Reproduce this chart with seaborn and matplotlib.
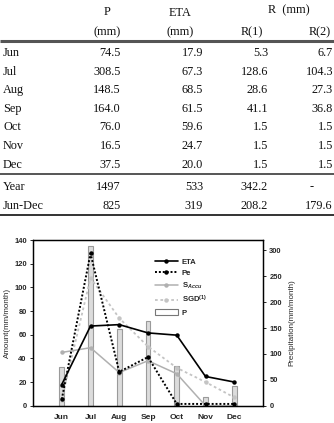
import numpy as np
import matplotlib
matplotlib.use('Agg')
import matplotlib.pyplot as plt
from matplotlib.lines import Line2D
from matplotlib.patches import Patch
import seaborn as sns

# ---- data ----
months = ['Jun', 'Jul', 'Aug', 'Sep', 'Oct', 'Nov', 'Dec']
p_mm = [74.5, 308.5, 148.5, 164.0, 76.0, 16.5, 37.5]
eta_mm = [17.9, 67.3, 68.5, 61.5, 59.6, 24.7, 20.0]
r1_mm = [5.3, 128.6, 28.6, 41.1, 1.5, 1.5, 1.5]
r2_mm = [6.7, 104.3, 27.3, 36.8, 1.5, 1.5, 1.5]
s_accu = [45, 49, 28, 38, 27, 0, 0]
sgd = [5, 108, 74, 50, 32, 20, 7]

total_labels = ['Year', 'Jun-Dec']
p_tot = ['1497', '825']
eta_tot = ['533', '319']
r1_tot = ['342.2', '208.2']
r2_tot = ['-', '179.6']

sns.set_style('ticks')
plt.rcParams['font.family'] = ['Liberation Sans', 'DejaVu Sans']
plt.rcParams['mathtext.fontset'] = 'custom'
plt.rcParams['mathtext.rm'] = 'Liberation Sans:bold'
plt.rcParams['mathtext.it'] = 'Liberation Sans:italic:bold'
plt.rcParams['mathtext.bf'] = 'Liberation Sans:bold'

W, H = 334, 423
fig = plt.figure(figsize=(W / 100, H / 100), dpi=100)
fig.patch.set_facecolor('white')

# ---- table ----
tab_h = 222
axt = fig.add_axes([0, 1 - tab_h / H, 1, tab_h / H])
axt.set_xlim(0, W)
axt.set_ylim(tab_h, 0)
axt.axis('off')

serif = dict(family=['Liberation Serif', 'DejaVu Serif'], fontsize=8.8, color='#111111')
col_right = [121, 203, 268, 333]
col_center = [107, 180, 252, 320]

axt.text(col_center[0], 12, 'P', ha='center', va='center', **serif)
axt.text(col_center[1], 13, 'ETA', ha='center', va='center', **serif)
axt.text(289, 10, 'R  (mm)', ha='center', va='center', **serif)
axt.text(col_center[0], 32, '(mm)', ha='center', va='center', **serif)
axt.text(col_center[1], 32, '(mm)', ha='center', va='center', **serif)
axt.text(col_center[2], 32, 'R(1)', ha='center', va='center', **serif)
axt.text(col_center[3], 32, 'R(2)', ha='center', va='center', **serif)
axt.plot([0, W], [41.5, 41.5], color='#555555', lw=2.2, solid_capstyle='butt')

row_y = 53
for i, m in enumerate(months):
    y = row_y + i * 18.6
    axt.text(3, y, m, ha='left', va='center', **serif)
    for c, v in enumerate([p_mm[i], eta_mm[i], r1_mm[i], r2_mm[i]]):
        axt.text(col_right[c], y, f'{v:.1f}', ha='right', va='center', **serif)

axt.plot([0, W], [174, 174], color='#555555', lw=1.4, solid_capstyle='butt')
for i, lab in enumerate(total_labels):
    y = 187 + i * 18.5
    axt.text(3, y, lab, ha='left', va='center', **serif)
    for c, s in enumerate([p_tot[i], eta_tot[i], r1_tot[i]]):
        axt.text(col_right[c], y, s, ha='right', va='center', **serif)
    if r2_tot[i] == '-':
        axt.text(312, y, '-', ha='center', va='center', **serif)
    else:
        axt.text(col_right[3], y, r2_tot[i], ha='right', va='center', **serif)
axt.plot([0, W], [215, 215], color='#333333', lw=1.4, solid_capstyle='butt')

# ---- chart ----
ax_l, ax_r, ax_b, ax_t = 33, 263, 405.7, 240
ax1 = fig.add_axes([ax_l / W, 1 - ax_b / H, (ax_r - ax_l) / W, (ax_b - ax_t) / H])
ax2 = ax1.twinx()

x = np.arange(len(months))
sns.barplot(x=x, y=p_mm, ax=ax2, width=0.16, color='#dcdcdc',
            edgecolor='#9a9a9a', linewidth=0.8, saturation=1)

ax1.set_zorder(ax2.get_zorder() + 1)
ax1.patch.set_visible(False)

sns.lineplot(x=x, y=sgd, ax=ax1, color='#c4c4c4', lw=1.3, linestyle=(0, (1.5, 1.5)),
             marker='o', markersize=3.2, markeredgewidth=0)
sns.lineplot(x=x, y=s_accu, ax=ax1, color='#b0b0b0', lw=1.1,
             marker='o', markersize=3.2, markeredgewidth=0)
sns.lineplot(x=x, y=r1_mm, ax=ax1, color='black', lw=1.4, linestyle=(0, (1, 1)),
             marker='o', markersize=3.2, markeredgewidth=0)
sns.lineplot(x=x, y=eta_mm, ax=ax1, color='black', lw=1.2,
             marker='o', markersize=3.2, markeredgewidth=0)

ax1.set_xlim(-1, 7)
ax1.set_ylim(0, 140)
ax2.set_ylim(0, 320)
ax1.set_yticks(range(0, 141, 20))
ax2.set_yticks(range(0, 301, 50))
ax1.set_xticks(x)
ax1.set_xticklabels(months)
ax2.set_xlim(-1, 7)

for lab in ax1.get_xticklabels():
    lab.set_fontsize(6.0)
    lab.set_fontweight('bold')
for lab in ax1.get_yticklabels() + ax2.get_yticklabels():
    lab.set_fontsize(5.4)
    lab.set_fontweight('bold')
ax1.tick_params(axis='x', length=0, pad=6)
ax1.tick_params(axis='y', length=2.5, width=0.7, pad=2, direction='out')
ax2.tick_params(axis='y', length=2.5, width=0.7, pad=2, direction='out')

ax1.set_ylabel('Amount(mm/month)', fontsize=5.8, labelpad=2)
ax2.set_ylabel('Precipitation(mm/month)', fontsize=5.8, labelpad=5)
ax1.set_xlabel('')
for a in (ax1, ax2):
    for s in a.spines.values():
        s.set_color('black')
        s.set_linewidth(0.9)

handles = [
    Line2D([], [], color='black', lw=1.2, marker='o', markersize=3.2, markeredgewidth=0),
    Line2D([], [], color='black', lw=1.4, linestyle=(0, (1, 1)), marker='o', markersize=3.2, markeredgewidth=0),
    Line2D([], [], color='#b0b0b0', lw=1.1, marker='o', markersize=3.2, markeredgewidth=0),
    Line2D([], [], color='#c4c4c4', lw=1.3, linestyle=(0, (1.5, 1.5)), marker='o', markersize=3.2, markeredgewidth=0),
    Patch(facecolor='white', edgecolor='#777777', linewidth=0.8),
]
labels = ['ETA', 'Pe', 'S$_{Accu}$', 'SGD$^{(1)}$', 'P']
leg = ax1.legend(handles, labels, loc='upper left', bbox_to_anchor=(0.515, 0.91),
                 frameon=False, fontsize=5.6, handlelength=3.0, handleheight=0.8,
                 labelspacing=0.45, handletextpad=0.5, borderaxespad=0)
for t in leg.get_texts():
    t.set_fontweight('bold')

fig.savefig('out.png', dpi=100, facecolor='white')
